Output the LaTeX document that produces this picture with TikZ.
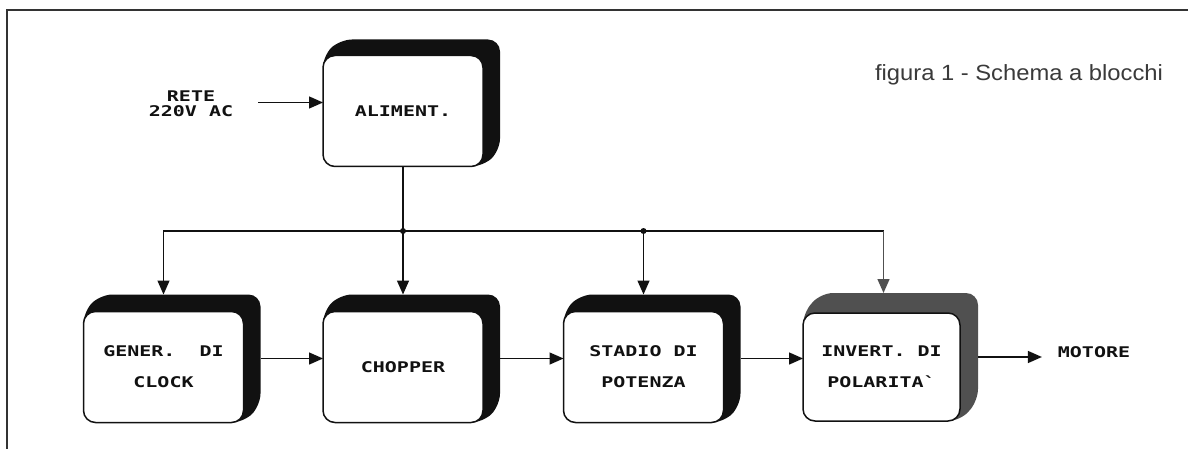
\documentclass[tikz,border=0pt]{standalone}
\usepackage{fontspec}
\newfontfamily\plotfont[FakeStretch=1.36,Ligatures=TeXOff]{DejaVu Sans Mono}
\newfontfamily\titlefont[FakeStretch=1.08]{Liberation Sans}
\usetikzlibrary{arrows.meta,backgrounds,calc}
\definecolor{ink}{HTML}{111111}
\definecolor{framec}{HTML}{333333}
\definecolor{greyink}{HTML}{505050}
\definecolor{titlec}{HTML}{3A3A3A}
\newcommand\mkshadow[4]{\fill[#2, rounded corners=12pt] (#1.south west) -- (#1.north west) -- ([shift={(#3,#4)}]#1.north west) -- ([shift={(#3,#4)}]#1.north east) -- ([shift={(#3,#4)}]#1.south east) -- (#1.south east) -- cycle;}
\tikzset{
  blockbox/.style={draw=ink, fill=white, line width=1.5pt, rounded corners=12pt,
    minimum width=160pt, minimum height=111pt, inner sep=0pt, outer sep=0pt,
    align=center, text=ink, font={\plotfont\bfseries\frenchspacing\fontsize{14.7}{31}\selectfont}},
  plain/.style={inner sep=0pt, outer sep=0pt, align=center, text=ink,
    font={\plotfont\bfseries\frenchspacing\fontsize{14.7}{15}\selectfont}},
  line/.style={draw=ink, line width=1.4pt},
  arr/.style={line, -{Triangle[length=14pt,width=12pt]}},
  framel/.style={draw=framec, line width=1.3pt},
}
\begin{document}
\begin{tikzpicture}[x=1pt,y=-1pt]
\useasboundingbox (0,0) rectangle (1188,449);
% frame
\draw[framel] (7,449) -- (7,10) -- (1188,10);
% title
\node[font={\titlefont\fontsize{22}{26}\selectfont}, text=titlec, inner sep=0pt] (title) at (1019,75) {figura 1 - Schema a blocchi};
% blocks
\node[blockbox] (alim) at (403,111) {ALIMENT.};
\node[blockbox] (gen) at (163.5,367) {GENER.\ \ DI\\CLOCK};
\node[blockbox] (chop) at (403,367) {CHOPPER};
\node[blockbox] (stad) at (643.5,367) {STADIO DI\\POTENZA};
\node[blockbox, minimum width=157pt, minimum height=108pt] (inv) at (881.5,367) {INVERT. DI\\POLARITA`};
\node[plain] (rete) at (191,104) {RETE\\220V AC};
\node[plain] (motor) at (1094,352) {MOTORE};
% shadows
\begin{scope}[on background layer]
  \fill[white] (0,0) rectangle (1188,449);
  \mkshadow{alim}{ink}{17}{-16}
  \mkshadow{gen}{ink}{17}{-17}
  \mkshadow{chop}{ink}{17}{-17}
  \mkshadow{stad}{ink}{17}{-17}
  \mkshadow{inv}{greyink}{18}{-20}
\end{scope}
% input
\coordinate (rin) at (258,102.5);
\draw[arr] (rin) -- (rin -| alim.west);
% bus
\coordinate (gent) at ($(gen.north)+(0,-17)$);
\coordinate (chopt) at ($(chop.north)+(0,-17)$);
\coordinate (stadt) at ($(stad.north)+(0,-17)$);
\coordinate (invt) at ($(inv.north)+(2,-20)$);
\coordinate (j1) at (403,231);
\coordinate (j2) at (stadt |- j1);
\coordinate (j3) at (invt |- j1);
\draw[line] (alim.south) -- (j1);
\draw[arr] (j1) -| (gent);
\draw[arr] (j1) -- (chopt);
\draw[line] (j1) -- (j2);
\draw[arr] (j2) -- (stadt);
\draw[line] (j2) -- (j3);
\draw[arr, draw=greyink] (j3) -- (invt);
\fill[ink] (j1) circle (3);
\fill[ink] (j2) circle (3);
% chain
\coordinate (genR) at ($(gen.east)+(17,-8.5)$);
\coordinate (chopR) at ($(chop.east)+(17,-8.5)$);
\coordinate (stadR) at ($(stad.east)+(17,-8.5)$);
\coordinate (invR) at ($(inv.east)+(18,-10)$);
\draw[arr] (genR) -- (genR -| chop.west);
\draw[arr] (chopR) -- (chopR -| stad.west);
\draw[arr] (stadR) -- (stadR -| inv.west);
\draw[arr, shorten >=16pt] (invR) -- (invR -| motor.west);
\end{tikzpicture}
\end{document}
